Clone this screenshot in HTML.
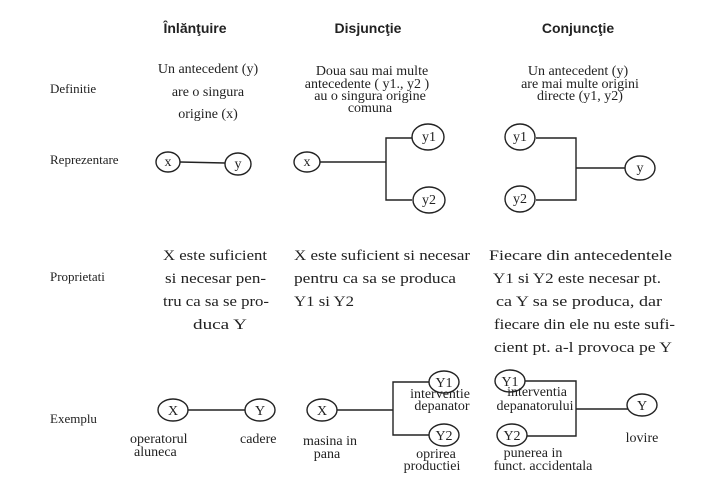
<!DOCTYPE html>
<html><head><meta charset="utf-8"><style>
html,body{margin:0;padding:0;background:#fff;}
svg{display:block;}
text{font-family:"Liberation Serif",serif;font-size:14px;fill:#222;}
.h{font-family:"Liberation Sans",sans-serif;font-weight:bold;font-size:14px;}
.s{font-size:13px;}
.p{font-size:15px;}
</style></head><body>
<svg width="728" height="486" viewBox="0 0 728 486" xmlns="http://www.w3.org/2000/svg">
<g fill="none" stroke="#222" stroke-width="1.4">
<line x1="180" y1="162" x2="225" y2="163"/>
<ellipse cx="168" cy="162" rx="12" ry="10" fill="#fff"/>
<ellipse cx="238" cy="164" rx="13" ry="11" fill="#fff"/>
<line x1="320" y1="162" x2="386" y2="162"/>
<polyline points="412,138 386,138 386,200 412,200"/>
<ellipse cx="307" cy="162" rx="13" ry="10" fill="#fff"/>
<ellipse cx="428" cy="137" rx="16" ry="13" fill="#fff"/>
<ellipse cx="429" cy="200" rx="16" ry="13" fill="#fff"/>
<polyline points="536,138 576,138 576,200 536,200"/>
<line x1="576" y1="168" x2="628" y2="168"/>
<ellipse cx="520" cy="137" rx="15" ry="13" fill="#fff"/>
<ellipse cx="520" cy="199" rx="15" ry="13" fill="#fff"/>
<ellipse cx="640" cy="168" rx="15" ry="12" fill="#fff"/>
<line x1="188" y1="410" x2="246" y2="410"/>
<ellipse cx="173" cy="410" rx="15" ry="11" fill="#fff"/>
<ellipse cx="260" cy="410" rx="15" ry="11" fill="#fff"/>
<line x1="336" y1="410" x2="393" y2="410"/>
<polyline points="430,382 393,382 393,435 430,435"/>
<ellipse cx="322" cy="410" rx="15" ry="11" fill="#fff"/>
<ellipse cx="444" cy="382" rx="15" ry="11" fill="#fff"/>
<ellipse cx="444" cy="435" rx="15" ry="11" fill="#fff"/>
<polyline points="524,381 576,381 576,436 526,436"/>
<line x1="576" y1="409" x2="628" y2="409"/>
<ellipse cx="510" cy="381" rx="15" ry="11" fill="#fff"/>
<ellipse cx="512" cy="435" rx="15" ry="11" fill="#fff"/>
<ellipse cx="642" cy="405" rx="15" ry="11" fill="#fff"/>
</g>
<text class="h" x="195" y="33" text-anchor="middle">Înlănţuire</text>
<text class="h" x="368" y="33" text-anchor="middle">Disjuncţie</text>
<text class="h" x="578" y="33" text-anchor="middle">Conjuncţie</text>
<text x="50" y="93" class="s">Definitie</text>
<text x="50" y="164" class="s">Reprezentare</text>
<text x="50" y="281" class="s">Proprietati</text>
<text x="50" y="423" class="s">Exemplu</text>
<text x="208" y="73" text-anchor="middle">Un antecedent  (y)</text>
<text x="208" y="96" text-anchor="middle">are o singura</text>
<text x="208" y="118" text-anchor="middle">origine (x)</text>
<text x="372" y="75" text-anchor="middle">Doua sau mai multe</text>
<text x="367" y="88" text-anchor="middle">antecedente ( y1., y2 )</text>
<text x="370" y="100" text-anchor="middle">au o singura origine</text>
<text x="370" y="112" text-anchor="middle">comuna</text>
<text x="578" y="75" text-anchor="middle">Un antecedent (y)</text>
<text x="580" y="88" text-anchor="middle">are mai multe origini</text>
<text x="580" y="100" text-anchor="middle">directe (y1, y2)</text>
<g text-anchor="middle">
<text x="168" y="166">x</text><text x="238" y="168">y</text>
<text x="307" y="166">x</text><text x="429" y="141">y1</text><text x="429" y="204">y2</text>
<text x="520" y="141">y1</text><text x="520" y="203">y2</text><text x="640" y="172">y</text>
<text x="173" y="415">X</text><text x="260" y="415">Y</text>
<text x="322" y="415">X</text><text x="444" y="387">Y1</text><text x="444" y="440">Y2</text>
<text x="510" y="386">Y1</text><text x="512" y="440">Y2</text><text x="642" y="410">Y</text>
</g>
<g class="p">
<text class="p" x="163" y="260" textLength="104" lengthAdjust="spacingAndGlyphs">X este suficient</text>
<text class="p" x="165" y="283" textLength="101" lengthAdjust="spacingAndGlyphs">si necesar pen-</text>
<text class="p" x="163" y="306" textLength="106" lengthAdjust="spacingAndGlyphs">tru ca sa se pro-</text>
<text class="p" x="193" y="329" textLength="54" lengthAdjust="spacingAndGlyphs">duca Y</text>
<text class="p" x="294" y="260" textLength="176" lengthAdjust="spacingAndGlyphs">X este suficient si necesar</text>
<text class="p" x="294" y="283" textLength="162" lengthAdjust="spacingAndGlyphs">pentru ca sa se produca</text>
<text class="p" x="294" y="306" textLength="60" lengthAdjust="spacingAndGlyphs">Y1 si Y2</text>
<text class="p" x="489" y="260" textLength="183" lengthAdjust="spacingAndGlyphs">Fiecare din antecedentele</text>
<text class="p" x="493" y="283" textLength="168" lengthAdjust="spacingAndGlyphs">Y1 si Y2 este necesar pt.</text>
<text class="p" x="496" y="306" textLength="166" lengthAdjust="spacingAndGlyphs">ca Y sa se produca, dar</text>
<text class="p" x="494" y="329" textLength="181" lengthAdjust="spacingAndGlyphs">fiecare din ele nu este sufi-</text>
<text class="p" x="494" y="352" textLength="178" lengthAdjust="spacingAndGlyphs">cient pt. a-l provoca pe Y</text>
</g>
<text x="130" y="443">operatorul</text>
<text x="134" y="456">aluneca</text>
<text x="240" y="443">cadere</text>
<text x="330" y="445" text-anchor="middle">masina in</text>
<text x="327" y="458" text-anchor="middle">pana</text>
<text x="440" y="398" text-anchor="middle">interventie</text>
<text x="442" y="410" text-anchor="middle">depanator</text>
<text x="436" y="458" text-anchor="middle">oprirea</text>
<text x="432" y="470" text-anchor="middle">productiei</text>
<text x="537" y="396" text-anchor="middle">interventia</text>
<text x="535" y="410" text-anchor="middle">depanatorului</text>
<text x="533" y="457" text-anchor="middle">punerea in</text>
<text x="543" y="470" text-anchor="middle">funct. accidentala</text>
<text x="642" y="442" text-anchor="middle">lovire</text>
</svg>
</body></html>
